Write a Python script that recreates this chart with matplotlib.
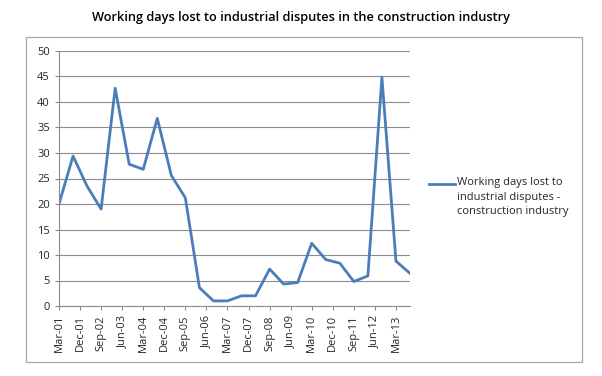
import matplotlib
matplotlib.use("Agg")
import matplotlib.pyplot as plt
from matplotlib.lines import Line2D
from matplotlib.patches import Rectangle

# Half-yearly observations, months counted from Mar-01
MONTHS = list(range(0, 151, 6))
DAYS_LOST = [20.0, 29.4, 23.5, 19.0, 42.7, 27.8, 26.8, 36.8, 25.6, 21.2,
             3.6, 1.0, 1.0, 2.0, 2.0, 7.25, 4.3, 4.6, 12.3, 9.1,
             8.4, 4.8, 5.9, 44.8, 8.8, 6.4]

TICK_MONTHS = list(range(0, 145, 9))
TICK_LABELS = ["Mar-01", "Dec-01", "Sep-02", "Jun-03", "Mar-04", "Dec-04",
               "Sep-05", "Jun-06", "Mar-07", "Dec-07", "Sep-08", "Jun-09",
               "Mar-10", "Dec-10", "Sep-11", "Jun-12", "Mar-13"]

LINE_COLOR = "#4A7EBB"
GRID_COLOR = "#8c8c8c"
TEXT_COLOR = "#262626"
FONT = "Open Sans"

W, H = 602, 376
fig = plt.figure(figsize=(W / 100, H / 100), dpi=100)

# outer chart frame
fig.add_artist(Rectangle((26 / W, 1 - 362 / H), (582 - 26) / W, (362 - 37) / H,
                         transform=fig.transFigure, fill=False,
                         edgecolor="#a6a6a6", linewidth=0.9))

fig.text(0.5, 1 - 17 / H,
         "Working days lost to industrial disputes in the construction industry",
         ha="center", va="center", fontsize=9.2, fontweight="semibold",
         family=FONT, color="black")

ax = fig.add_axes([59 / W, 1 - 306 / H, (410 - 59) / W, (306 - 51) / H])
ax.plot(MONTHS, DAYS_LOST, color=LINE_COLOR, linewidth=2.0,
        solid_joinstyle="round")

ax.set_xlim(0, 150)
ax.set_ylim(0, 50)
ax.set_yticks(range(0, 51, 5))
ax.set_xticks(TICK_MONTHS)
ax.set_xticklabels(TICK_LABELS, rotation=90)
ax.tick_params(axis="both", labelsize=8, colors=GRID_COLOR,
               labelcolor=TEXT_COLOR, length=3, width=0.8)
for lbl in ax.get_xticklabels() + ax.get_yticklabels():
    lbl.set_family(FONT)

ax.grid(True, axis="y", color=GRID_COLOR, linewidth=0.8)
ax.set_axisbelow(True)
for side in ["top", "right"]:
    ax.spines[side].set_visible(False)
for side in ["left", "bottom"]:
    ax.spines[side].set_color(GRID_COLOR)
    ax.spines[side].set_linewidth(0.8)

# legend drawn by hand so the key sits on the first text line
fig.add_artist(Line2D([429 / W, 455 / W], [1 - 184 / H, 1 - 184 / H],
                      transform=fig.transFigure, color=LINE_COLOR,
                      linewidth=2.0))
fig.text(457 / W, 1 - 177 / H,
         "Working days lost to\nindustrial disputes -\nconstruction industry",
         ha="left", va="top", fontsize=8, family=FONT, color=TEXT_COLOR,
         linespacing=1.45, transform=fig.transFigure)

plt.savefig("out.png", dpi=100)
